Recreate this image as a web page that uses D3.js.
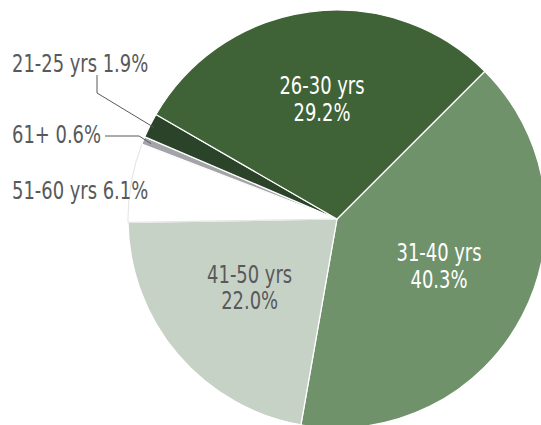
<!DOCTYPE html>
<html>
<head>
<meta charset="utf-8">
<script src="https://cdn.jsdelivr.net/npm/d3@7"></script>
<style>
  html, body { margin: 0; padding: 0; background: #fff; }
  svg text { font-family: "DejaVu Sans Condensed", "DejaVu Sans", sans-serif; font-stretch: condensed; }
</style>
</head>
<body>
<div id="chart"></div>
<script>
// Age groups, clockwise starting from the upper right
const groups = ["31-40 yrs", "41-50 yrs", "51-60 yrs", "61+", "21-25 yrs", "26-30 yrs"];
const shares = [40.3, 22.0, 6.1, 0.6, 1.9, 29.2];
const fills = ["#6f926b", "#c7d2c6", "#ffffff", "#a3a4a8", "#2b4329", "#3f6337"];
const insideLabel = [true, true, false, false, false, true];
const labelInk = ["#ffffff", "#58595b", "#58595b", "#58595b", "#58595b", "#ffffff"];

let width = 541, height = 425;
let cx = 337, cy = 219, radius = 209;
let squeeze = 0.83; // narrow the font a bit, the original uses a condensed face

let svg = d3.select("#chart").append("svg")
    .attr("width", width)
    .attr("height", height);

let g = svg.append("g")
    .attr("transform", `translate(${cx}, ${cy})`);

let data = groups.map((d, i) => ({group: d, share: shares[i], fill: fills[i], inside: insideLabel[i], ink: labelInk[i]}));

let pie = d3.pie()
    .sort(null)
    .value(d => d.share)
    .startAngle(Math.PI / 4)
    .endAngle(Math.PI / 4 + 2 * Math.PI);

let arcs = pie(data);

let arc = d3.arc().innerRadius(0).outerRadius(radius);
let labelArc = d3.arc().innerRadius(radius * 0.55).outerRadius(radius * 0.55);

g.selectAll("path.slice")
    .data(arcs)
    .enter().append("path")
    .attr("class", "slice")
    .attr("d", arc)
    .attr("fill", d => d.data.fill)
    .attr("stroke", d => d.data.fill === "#ffffff" ? "#e6e6e6" : "#ffffff")
    .attr("stroke-width", 1.2)
    .attr("stroke-linejoin", "round");

// labels inside big slices
let inside = g.selectAll("text.inside")
    .data(arcs.filter(d => d.data.inside))
    .enter().append("text")
    .attr("class", "inside")
    .attr("transform", d => `translate(${labelArc.centroid(d)}) scale(${squeeze}, 1)`)
    .attr("text-anchor", "middle")
    .attr("fill", d => d.data.ink)
    .style("font-size", "24px");

inside.append("tspan")
    .attr("x", 0)
    .attr("dy", "-0.45em")
    .text(d => d.data.group);

inside.append("tspan")
    .attr("x", 0)
    .attr("dy", "1.1em")
    .text(d => d.data.share.toFixed(1) + "%");

// labels outside the thin slices, stacked at the left
let outerRows = {"21-25 yrs": 72, "61+": 143, "51-60 yrs": 199};
let outside = arcs.filter(d => !d.data.inside);

svg.selectAll("text.outside")
    .data(outside)
    .enter().append("text")
    .attr("class", "outside")
    .attr("transform", d => `translate(12, ${outerRows[d.data.group]}) scale(${squeeze}, 1)`)
    .attr("fill", d => d.data.ink)
    .style("font-size", "24px")
    .text(d => d.data.group + " " + d.data.share.toFixed(1) + "%")
    .each(function(d) { d.textWidth = this.getComputedTextLength() * squeeze; });

// leader lines
function edgePoint(d, f) {
    let a = (d.startAngle + d.endAngle) / 2;
    return [cx + Math.sin(a) * radius * f, cy - Math.cos(a) * radius * f];
}

let line = d3.line();

outside.forEach(d => {
    let pts = null;
    let rowY = outerRows[d.data.group];
    if (d.data.group === "21-25 yrs") {
        let p = edgePoint(d, 0.98);
        pts = [[97, rowY + 3], [97, rowY + 21], p];
    } else if (d.data.group === "61+") {
        let p = edgePoint(d, 0.96);
        pts = [[12 + d.textWidth + 4, rowY - 7], [p[0] - 12, rowY - 7], p];
    }
    if (pts) {
        svg.append("path")
            .attr("d", line(pts))
            .attr("fill", "none")
            .attr("stroke", "#58595b")
            .attr("stroke-width", 1);
    }
});
</script>
</body>
</html>
